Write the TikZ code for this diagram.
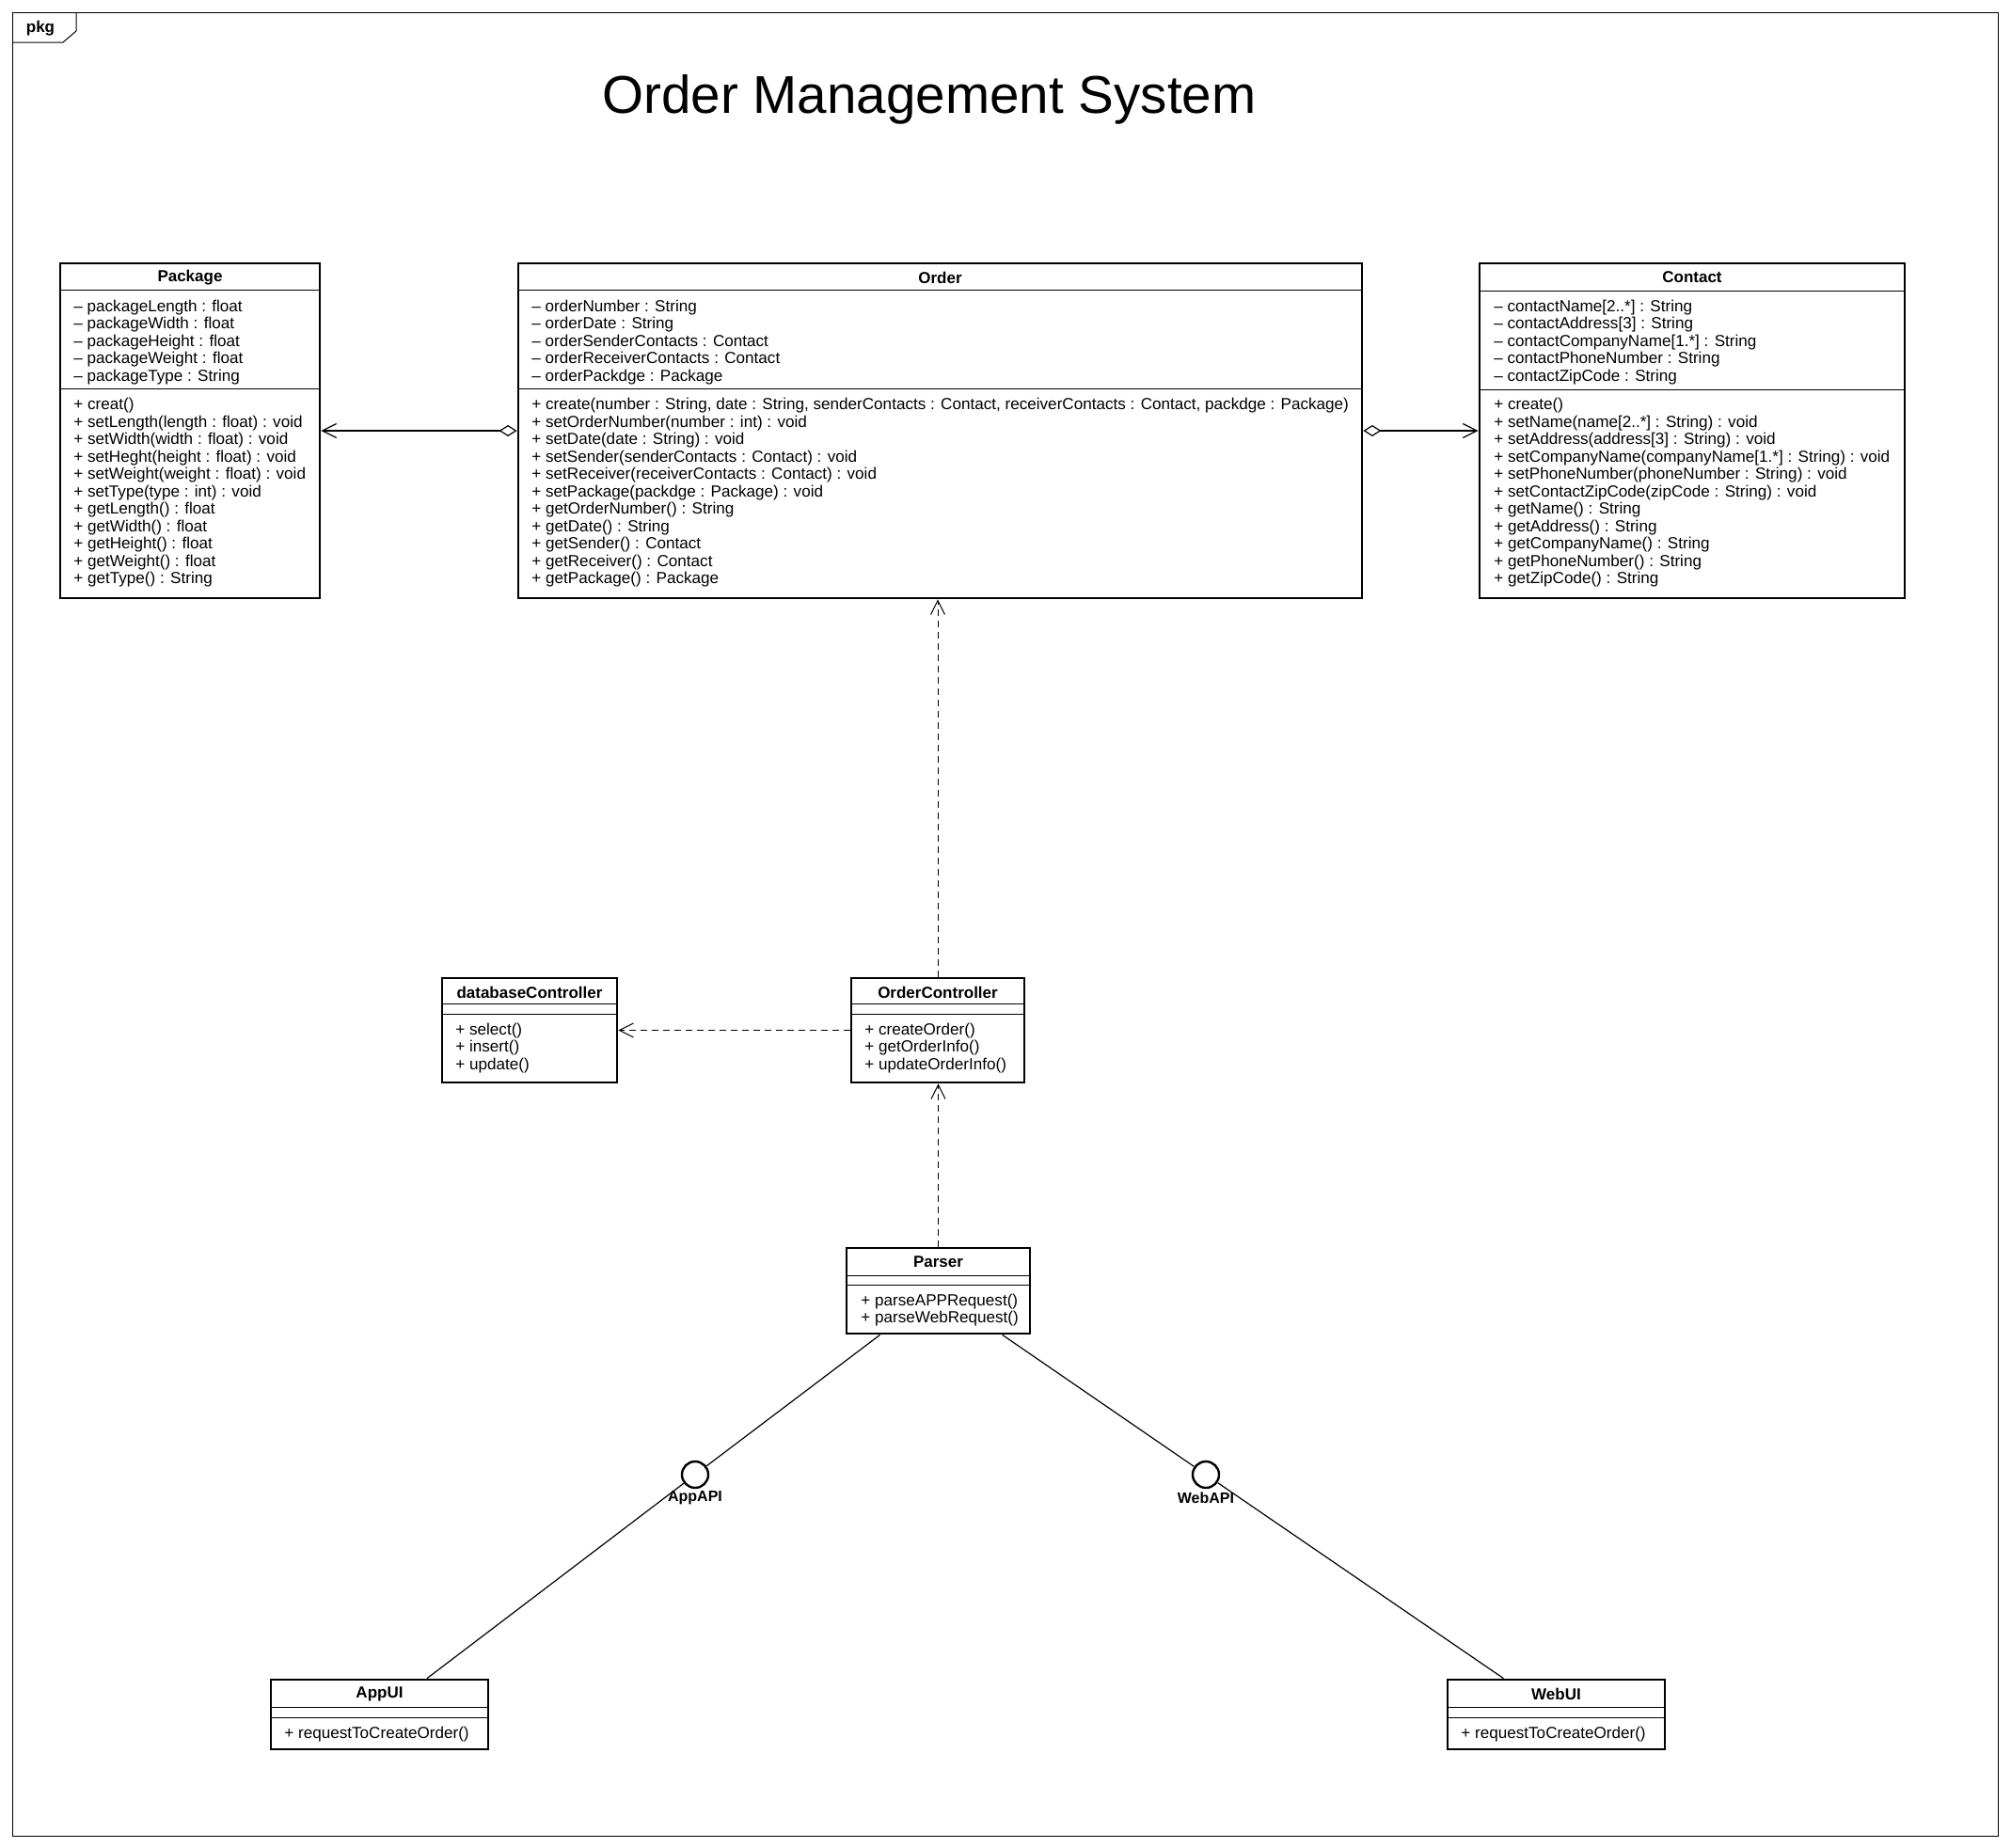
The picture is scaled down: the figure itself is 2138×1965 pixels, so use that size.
\documentclass[tikz,border=0pt]{standalone}
\usepackage{fontspec}
\setmainfont{Liberation Sans}
\usetikzlibrary{arrows.meta,fit}

\begin{document}
\begin{tikzpicture}[x=0.5pt,y=-0.5pt,
  classbox/.style={draw,line width=1.4pt,inner sep=0pt},
  sepline/.style={line width=0.5pt},
  cname/.style={inner sep=0pt,font=\fontsize{8.5}{10}\selectfont\bfseries},
  member/.style={anchor=base west,inner sep=0pt,font=\fontsize{8.55}{10}\selectfont},
  assoc/.style={line width=0.6pt},
  aggr/.style={line width=0.6pt,{Diamond[open,length=9.5pt,width=6pt]}-{Straight Barb[length=7.5pt,width=7.5pt]}},
  dep/.style={line width=0.5pt,dash pattern=on 3.5pt off 2.5pt,-{Straight Barb[length=7.5pt,width=7.5pt]}},
  iface/.style={circle,draw,line width=1.2pt,minimum size=14pt,inner sep=0pt},
  ifacelabel/.style={inner sep=0pt,font=\fontsize{8}{10}\selectfont\bfseries}]
\useasboundingbox[fill=white] (0,0) rectangle (2138,1965);

% frame
\draw[line width=0.5pt] (13,13) rectangle (2124,1952);
\draw[line width=0.5pt] (13,45) -- (67,45) -- (81,33) -- (81,13);
\node[inner sep=0pt,font=\fontsize{8.5}{10}\selectfont\bfseries] (pkg) at (43,30) {pkg};
\node[anchor=base,font=\fontsize{28.3}{34}\selectfont] (title) at (988,120) {Order Management System};

% Package
\node[classbox,fit={(64,280) (340,636)}] (package) {};
\draw[sepline] (64,308) -- (340,308);
\draw[sepline] (64,413) -- (340,413);
\node[cname] (package-name) at (202,295) {Package};
\foreach \m [count=\i from 0] in {{-- packageLength : float},{-- packageWidth : float},{-- packageHeight : float},{-- packageWeight : float},{-- packageType : String}}
  \node[member] (package-a\i) at (78,331+18.5*\i) {\m};
\foreach \m [count=\i from 0] in {{+ creat()},{+ setLength(length : float) : void},{+ setWidth(width : float) : void},{+ setHeght(height : float) : void},{+ setWeight(weight : float) : void},{+ setType(type : int) : void},{+ getLength() : float},{+ getWidth() : float},{+ getHeight() : float},{+ getWeight() : float},{+ getType() : String}}
  \node[member] (package-o\i) at (78,435.5+18.5*\i) {\m};

% Order
\node[classbox,fit={(551,280) (1448,636)}] (order) {};
\draw[sepline] (551,308) -- (1448,308);
\draw[sepline] (551,413) -- (1448,413);
\node[cname] (order-name) at (999.5,295) {Order};
\foreach \m [count=\i from 0] in {{-- orderNumber : String},{-- orderDate : String},{-- orderSenderContacts : Contact},{-- orderReceiverContacts : Contact},{-- orderPackdge : Package}}
  \node[member] (order-a\i) at (565,331+18.5*\i) {\m};
\foreach \m [count=\i from 0] in {{+ create(number : String, date : String, senderContacts : Contact, receiverContacts : Contact, packdge : Package)},{+ setOrderNumber(number : int) : void},{+ setDate(date : String) : void},{+ setSender(senderContacts : Contact) : void},{+ setReceiver(receiverContacts : Contact) : void},{+ setPackage(packdge : Package) : void},{+ getOrderNumber() : String},{+ getDate() : String},{+ getSender() : Contact},{+ getReceiver() : Contact},{+ getPackage() : Package}}
  \node[member] (order-o\i) at (565,435.5+18.5*\i) {\m};

% Contact
\node[classbox,fit={(1573,280) (2025,636)}] (contact) {};
\draw[sepline] (1573,309) -- (2025,309);
\draw[sepline] (1573,414) -- (2025,414);
\node[cname] (contact-name) at (1799,295) {Contact};
\foreach \m [count=\i from 0] in {{-- contactName[2..*] : String},{-- contactAddress[3] : String},{-- contactCompanyName[1.*] : String},{-- contactPhoneNumber : String},{-- contactZipCode : String}}
  \node[member] (contact-a\i) at (1588,331+18.5*\i) {\m};
\foreach \m [count=\i from 0] in {{+ create()},{+ setName(name[2..*] : String) : void},{+ setAddress(address[3] : String) : void},{+ setCompanyName(companyName[1.*] : String) : void},{+ setPhoneNumber(phoneNumber : String) : void},{+ setContactZipCode(zipCode : String) : void},{+ getName() : String},{+ getAddress() : String},{+ getCompanyName() : String},{+ getPhoneNumber() : String},{+ getZipCode() : String}}
  \node[member] (contact-o\i) at (1588,435.5+18.5*\i) {\m};

% controllers
\node[classbox,fit={(470,1040) (656,1151)}] (dbcontroller) {};
\draw[sepline] (470,1067) -- (656,1067);
\draw[sepline] (470,1078) -- (656,1078);
\node[cname] (dbcontroller-name) at (563,1055) {databaseController};
\foreach \m [count=\i from 0] in {{+ select()},{+ insert()},{+ update()}}
  \node[member] (dbcontroller-o\i) at (484,1100+18.5*\i) {\m};

\node[classbox,fit={(905,1040) (1089,1151)}] (ordercontroller) {};
\draw[sepline] (905,1067) -- (1089,1067);
\draw[sepline] (905,1078) -- (1089,1078);
\node[cname] (ordercontroller-name) at (997,1055) {OrderController};
\foreach \m [count=\i from 0] in {{+ createOrder()},{+ getOrderInfo()},{+ updateOrderInfo()}}
  \node[member] (ordercontroller-o\i) at (919,1100+18.5*\i) {\m};

% Parser
\node[classbox,fit={(900,1327) (1095,1418)}] (parser) {};
\draw[sepline] (900,1356) -- (1095,1356);
\draw[sepline] (900,1366) -- (1095,1366);
\node[cname] (parser-name) at (997.5,1342) {Parser};
\foreach \m [count=\i from 0] in {{+ parseAPPRequest()},{+ parseWebRequest()}}
  \node[member] (parser-o\i) at (915,1388+18*\i) {\m};

% UIs
\node[classbox,fit={(288,1786) (519,1860)}] (appui) {};
\draw[sepline] (288,1815) -- (519,1815);
\draw[sepline] (288,1826) -- (519,1826);
\node[cname] (appui-name) at (403.5,1801) {AppUI};
\node[member] (appui-o0) at (302,1848) {+ requestToCreateOrder()};

\node[classbox,fit={(1539,1786) (1770,1860)}] (webui) {};
\draw[sepline] (1539,1815) -- (1770,1815);
\draw[sepline] (1539,1826) -- (1770,1826);
\node[cname] (webui-name) at (1654.5,1801) {WebUI};
\node[member] (webui-o0) at (1553,1848) {+ requestToCreateOrder()};

% interfaces
\node[iface] (appapi) at (739,1568) {};
\node[ifacelabel] (appapi-label) at (739,1593) {AppAPI};
\node[iface] (webapi) at (1282,1568) {};
\node[ifacelabel] (webapi-label) at (1282,1593) {WebAPI};

% connectors
\draw[aggr] (order.west) -- (package.east);
\draw[aggr] (order.east) -- (contact.west);
\draw[dep] (ordercontroller.north) -- (ordercontroller.north |- order.south);
\draw[dep] (ordercontroller.west) -- (dbcontroller.east);
\draw[dep] (parser.north) -- (parser.north |- ordercontroller.south);
\draw[assoc] (parser) -- (appapi);
\draw[assoc] (appapi) -- (appui);
\draw[assoc] (parser) -- (webapi);
\draw[assoc] (webapi) -- (webui);
\end{tikzpicture}
\end{document}
